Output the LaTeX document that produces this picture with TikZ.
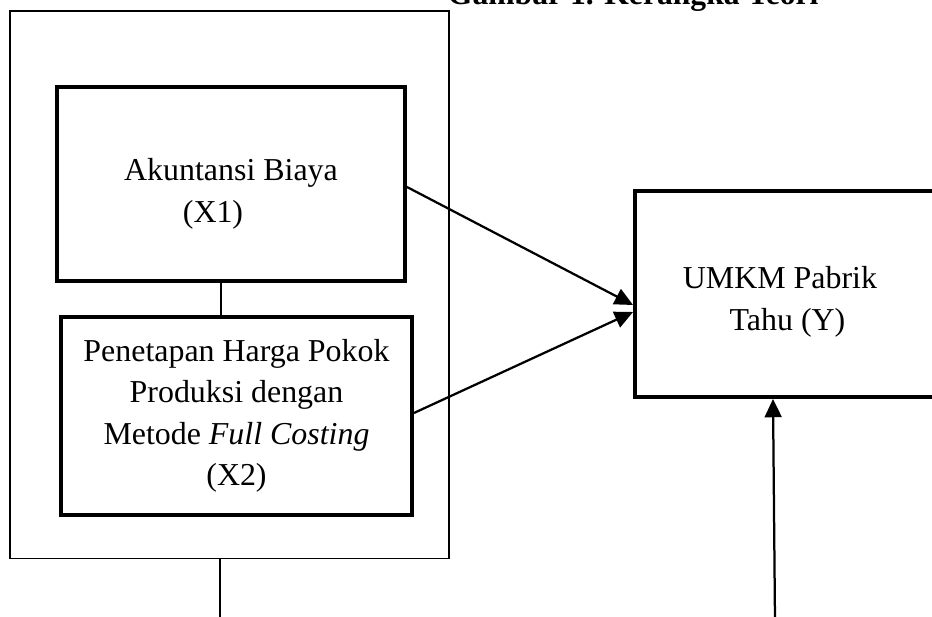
\documentclass[tikz,border=0pt]{standalone}
\usepackage{fontspec}
\setmainfont{Liberation Serif}
\usepackage{tikz}
\usetikzlibrary{arrows.meta}

\begin{document}
\begin{tikzpicture}[
    kotak/.style={rectangle, draw, line width=2.8pt, align=center},
    bingkai/.style={rectangle, draw, line width=0.9pt},
    garis/.style={line width=0.9pt},
    panah/.style={line width=1.6pt, -{Triangle[length=13pt, width=12pt]}},
    font=\fontsize{22.7}{29.5}\selectfont
  ]
  % Variables
  \def \lebar  {23.3}
  \def \tinggi {15.425}

  \useasboundingbox (0,0) rectangle (\lebar,\tinggi);

  % Title (cut off at the top)
  \node[anchor=base west, font=\fontsize{22.5}{29.5}\selectfont\bfseries] (judul) at (11.075,15.32) {Gambar 1. Kerangka Teori};

  % Frame
  \node[bingkai, minimum width=10.975cm, minimum height=13.6875cm] (kerangka) at (5.7375,8.30625) {};

  % Rectangles
  \node[kotak, minimum width=8.7cm, minimum height=4.85cm] (x1) at (5.775,10.825) {\rule{0pt}{30pt}Akuntansi Biaya\\(X1)\hspace*{0.9cm}};
  \node[kotak, minimum width=8.775cm, minimum height=4.95cm] (x2) at (5.9125,5.025) {Penetapan Harga Pokok\\Produksi dengan\\Metode \textit{Full Costing}\\(X2)};
  \node[kotak, minimum width=7.625cm, minimum height=5.15cm] (y) at (19.6875,8.075) {\rule{0pt}{27pt}UMKM Pabrik\hspace*{0.375cm}\\Tahu (Y)};

  % Free ends
  \coordinate (bawahkiri) at (5.5,-0.1);
  \coordinate (bawahkanan) at (19.375,-0.1);

  % Lines
  \draw[garis] ([xshift=-0.25cm]x1.south) -- ([xshift=-0.25cm]x1.south |- x2.north);
  \draw[garis] (bawahkiri |- kerangka.south) -- (bawahkiri);

  % Arrows
  \draw[panah] ([yshift=-0.075cm]x1.east) -- ([yshift=-0.275cm]y.west);
  \draw[panah] ([yshift=0.075cm]x2.east) -- ([yshift=-0.45cm]y.west);
  \draw[panah] (bawahkanan) -- ([xshift=-0.3625cm]y.south);

\end{tikzpicture}
\end{document}
